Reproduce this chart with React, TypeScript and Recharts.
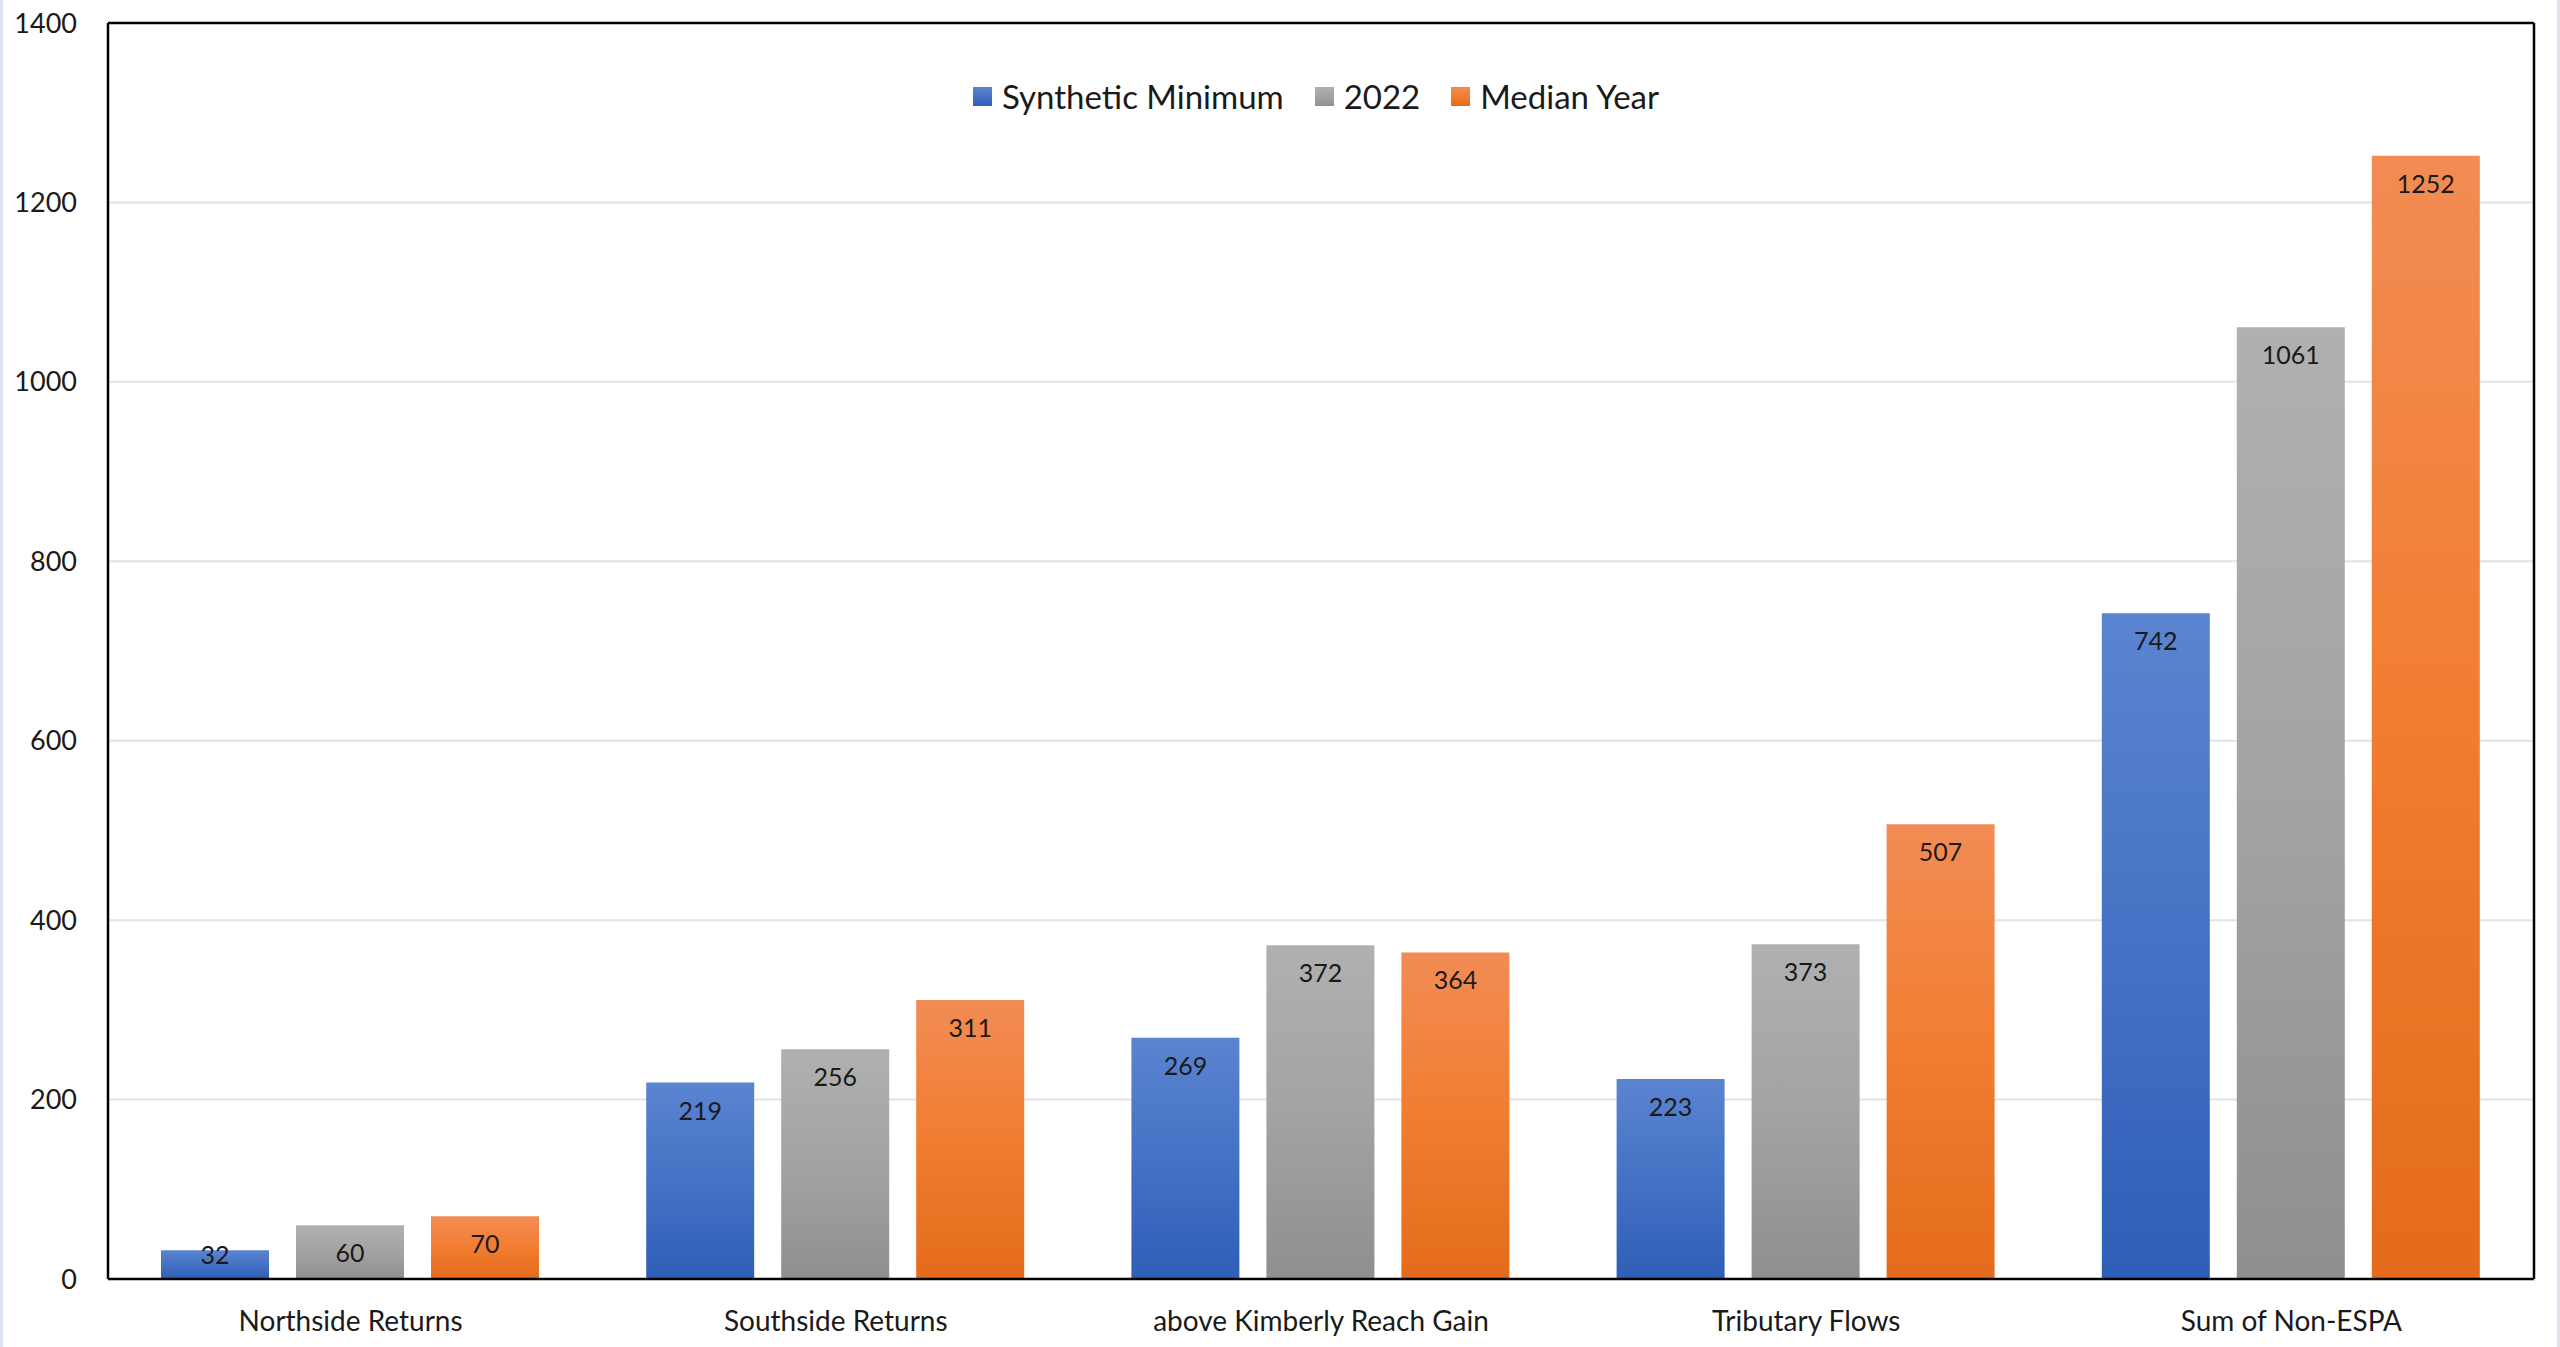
import React from 'react';
import {
  BarChart,
  Bar,
  XAxis,
  YAxis,
  CartesianGrid,
  Legend,
  LabelList,
} from 'recharts';

const categories = [
  'Northside Returns',
  'Southside Returns',
  'above Kimberly Reach Gain',
  'Tributary Flows',
  'Sum of Non-ESPA',
];
const syntheticMinimum = [32, 219, 269, 223, 742];
const year2022 = [60, 256, 372, 373, 1061];
const medianYear = [70, 311, 364, 507, 1252];
const yTicks = [0, 200, 400, 600, 800, 1000, 1200, 1400];

const data = categories.map((name, i) => ({
  name,
  synthetic: syntheticMinimum[i],
  y2022: year2022[i],
  median: medianYear[i],
}));

const series = [
  { key: 'synthetic', label: 'Synthetic Minimum', grad: 'gradBlue', stops: ['#5b84d1', '#4472c4', '#2f5eb8'] },
  { key: 'y2022', label: '2022', grad: 'gradGray', stops: ['#b0b0b0', '#a3a3a3', '#8f8f8f'] },
  { key: 'median', label: 'Median Year', grad: 'gradOrange', stops: ['#f28c54', '#f17d30', '#e46b1b'] },
];

const FONT = 'Lato, "Open Sans", sans-serif';

// value sits just inside the top of the bar, but never drops below the baseline
const BarValue = (props: any) => {
  const { x, y, width, height, value } = props;
  const cy = Math.min(y + 27, y + height - 25);
  return (
    <text
      x={x + width / 2}
      y={cy}
      textAnchor="middle"
      dominantBaseline="central"
      fontFamily={FONT}
      fontSize={25}
      fill="#1a1a1a"
    >
      {value}
    </text>
  );
};

const LegendContent = () => (
  <div
    style={{
      display: 'flex',
      justifyContent: 'center',
      alignItems: 'center',
      gap: 31,
      fontFamily: FONT,
      fontSize: 33,
      color: '#1a1a1a',
    }}
  >
    {series.map((s) => (
      <div key={s.key} style={{ display: 'flex', alignItems: 'center', gap: 10 }}>
        <span
          style={{
            width: 19,
            height: 19,
            display: 'inline-block',
            background: `linear-gradient(${s.stops[0]}, ${s.stops[1]}, ${s.stops[2]})`,
          }}
        />
        <span>{s.label}</span>
      </div>
    ))}
  </div>
);

const App: React.FC = () => {
  return (
    <div
      style={{
        position: 'absolute',
        left: 0,
        top: 0,
        width: 2560,
        height: 1347,
        background: '#ffffff',
        boxSizing: 'border-box',
        borderLeft: '3px solid #dde3ee',
        borderRight: '3px solid #dde3ee',
      }}
    >
      <BarChart
        width={2554}
        height={1347}
        data={data}
        margin={{ top: 22, right: 22, bottom: 0, left: -3 }}
        barCategoryGap={53}
        barGap={27}
      >
        <defs>
          {series.map((s) => (
            <linearGradient key={s.grad} id={s.grad} x1="0" y1="0" x2="0" y2="1">
              <stop offset="0%" stopColor={s.stops[0]} />
              <stop offset="50%" stopColor={s.stops[1]} />
              <stop offset="100%" stopColor={s.stops[2]} />
            </linearGradient>
          ))}
        </defs>
        <CartesianGrid vertical={false} stroke="#dfe3ea" strokeWidth={2} />
        <XAxis
          dataKey="name"
          height={68}
          tickSize={0}
          tickMargin={32}
          axisLine={{ stroke: '#000000', strokeWidth: 2.5 }}
          tickLine={false}
          tick={{ fill: '#1a1a1a', fontFamily: FONT, fontSize: 28 }}
          interval={0}
        />
        {/* top and right edges of the plot frame */}
        <XAxis
          xAxisId="top"
          dataKey="name"
          orientation="top"
          height={1}
          tick={false}
          tickLine={false}
          axisLine={{ stroke: '#000000', strokeWidth: 2.5 }}
        />
        <YAxis
          width={108}
          domain={[0, 1400]}
          ticks={yTicks}
          tickSize={0}
          tickMargin={31}
          axisLine={{ stroke: '#000000', strokeWidth: 2.5 }}
          tickLine={false}
          tick={{ fill: '#1a1a1a', fontFamily: FONT, fontSize: 27 }}
        />
        <YAxis
          yAxisId="right"
          orientation="right"
          width={1}
          domain={[0, 1400]}
          tick={false}
          tickLine={false}
          axisLine={{ stroke: '#000000', strokeWidth: 2.5 }}
        />
        <Legend
          layout="horizontal"
          verticalAlign="middle"
          align="center"
          content={<LegendContent />}
          wrapperStyle={{ top: 76, left: 100, width: 2426 }}
        />
        {series.map((s) => (
          <Bar
            key={s.key}
            dataKey={s.key}
            name={s.label}
            fill={`url(#${s.grad})`}
            isAnimationActive={false}
          >
            <LabelList dataKey={s.key} content={<BarValue />} />
          </Bar>
        ))}
      </BarChart>
    </div>
  );
};

export default App;
